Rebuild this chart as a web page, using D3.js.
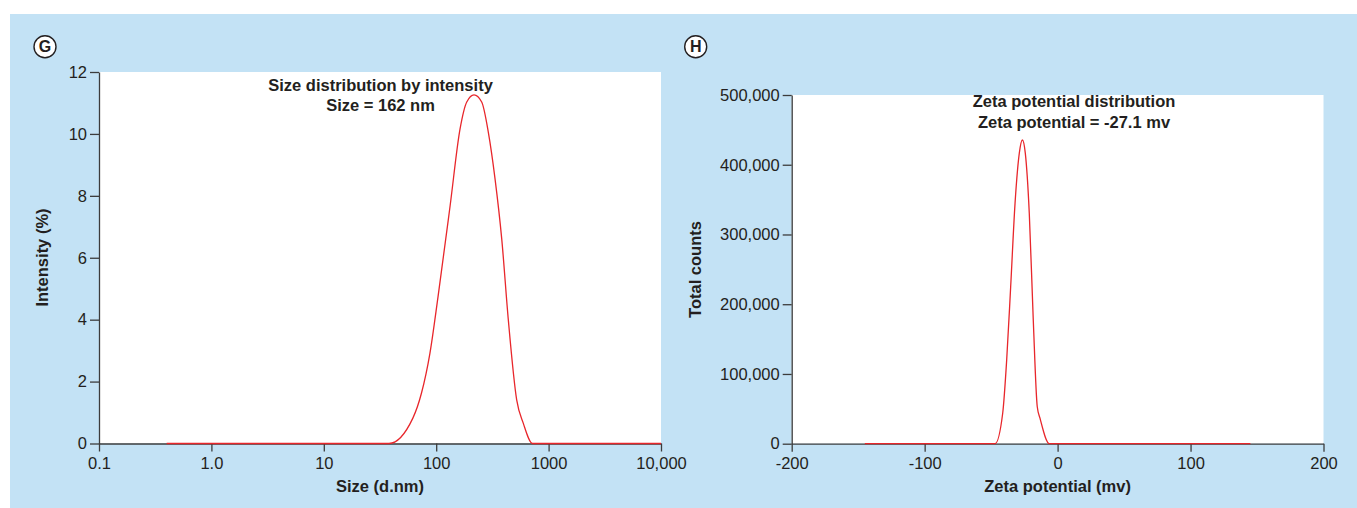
<!DOCTYPE html>
<html>
<head>
<meta charset="utf-8">
<script src="https://cdn.jsdelivr.net/npm/d3@7"></script>
<style>
	body { margin: 0; background: #fff; }
	text { font-family: "Liberation Sans", Arial, sans-serif; fill: #231f20; }
</style>
</head>
<body>
<script>
// Chart data
const sizeNm = [0.4, 38, 62, 74, 88, 104, 133, 163, 187, 217, 254, 291, 334, 383, 438, 520, 596, 720, 10000];
const intensity = [0, 0, 0.82, 1.63, 2.92, 4.76, 7.68, 10.16, 11.03, 11.26, 11.03, 10.05, 8.54, 6.6, 4.0, 1.41, 0.65, 0, 0];
const sizeTicks = [0.1, 1, 10, 100, 1000, 10000];
const sizeTickLabels = ['0.1', '1.0', '10', '100', '1000', '10,000'];
const intensityTicks = [0, 2, 4, 6, 8, 10, 12];

const zetaMv = [-145, -47, -41.3, -38.3, -35.3, -32, -28.8, -26.5, -24.3, -21.3, -18.3, -15.3, -13.2, -6.2, 145];
const totalCounts = [0, 0, 43600, 120000, 225000, 345000, 416600, 435500, 416600, 330500, 177500, 53000, 36400, 0, 0];
const zetaTicks = [-200, -100, 0, 100, 200];
const countTicks = [0, 100000, 200000, 300000, 400000, 500000];

// Constants
const w = 1357;
const h = 508;
const fontSize = 16.5;
const red = '#e8262b';
const axisColor = '#3c3c3c';

const svg = d3.select('body')
	.append('svg')
	.attr('width', w)
	.attr('height', h);

// Blue panel background
svg.append('rect')
	.attr('x', 10)
	.attr('y', 14)
	.attr('width', w - 10)
	.attr('height', h - 14)
	.attr('fill', '#c3e2f5');

// Draw one panel
const panel = (opts) => {
	const { xScale, yScale, xs, ys, xTicks, xFormat, yTicks, yFormat } = opts;
	const [x0, x1] = xScale.range();
	const [y0, y1] = yScale.range();

	// white plot area
	svg.append('rect')
		.attr('x', x0)
		.attr('y', y1)
		.attr('width', x1 - x0)
		.attr('height', y0 - y1)
		.attr('fill', '#fff');

	const xAxis = d3.axisBottom(xScale)
		.tickValues(xTicks)
		.tickFormat(xFormat)
		.tickSize(8)
		.tickSizeOuter(0)
		.tickPadding(5.5);

	const yAxis = d3.axisLeft(yScale)
		.tickValues(yTicks)
		.tickFormat(yFormat)
		.tickSize(9)
		.tickSizeOuter(0)
		.tickPadding(3);

	const gx = svg.append('g')
		.attr('transform', 'translate(0,' + y0 + ')')
		.call(xAxis);

	const gy = svg.append('g')
		.attr('transform', 'translate(' + x0 + ',0)')
		.call(yAxis);

	[gx, gy].forEach((g) => {
		g.selectAll('path, line').attr('stroke', axisColor).attr('stroke-width', 1.3);
		g.selectAll('text')
			.attr('font-size', fontSize)
			.attr('font-family', '"Liberation Sans", Arial, sans-serif')
			.attr('fill', '#231f20');
	});

	// red distribution line
	const line = d3.line()
		.x((d, i) => xScale(xs[i]))
		.y((d) => yScale(d))
		.curve(d3.curveMonotoneX);

	svg.append('path')
		.datum(ys)
		.attr('d', line)
		.attr('fill', 'none')
		.attr('stroke', red)
		.attr('stroke-width', 1.3);

	return { x0, x1, y0, y1 };
};

// Panel G: size distribution
const sizeScale = d3.scaleLog().domain([0.1, 10000]).range([99, 661]);
const intensityScale = d3.scaleLinear().domain([0, 12]).range([443.5, 72]);
panel({
	xScale: sizeScale, yScale: intensityScale, xs: sizeNm, ys: intensity,
	xTicks: sizeTicks, xFormat: (d, i) => sizeTickLabels[i],
	yTicks: intensityTicks, yFormat: d3.format('d')
});

// Panel H: zeta potential
const zetaScale = d3.scaleLinear().domain([-200, 200]).range([791.7, 1323.5]);
const countScale = d3.scaleLinear().domain([0, 500000]).range([443.7, 95]);
panel({
	xScale: zetaScale, yScale: countScale, xs: zetaMv, ys: totalCounts,
	xTicks: zetaTicks, xFormat: (d) => String(d),
	yTicks: countTicks, yFormat: d3.format(',')
});

// Text labels
const label = (x, y, str, rotate) => {
	svg.append('text')
		.attr('transform', 'translate(' + x + ',' + y + ')' + (rotate ? ' rotate(-90)' : ''))
		.attr('text-anchor', 'middle')
		.attr('font-size', fontSize)
		.attr('font-weight', 'bold')
		.text(str);
};

label(380.5, 90.7, 'Size distribution by intensity');
label(380.5, 110.7, 'Size = 162 nm');
label(380, 491.5, 'Size (d.nm)');
label(48, 257.5, 'Intensity (%)', true);

label(1074, 107, 'Zeta potential distribution');
label(1074, 127.5, 'Zeta potential = -27.1 mv');
label(1057.6, 491.5, 'Zeta potential (mv)');
label(700.5, 269.5, 'Total counts', true);

// Circled panel letters
const badge = (cx, cy, letter) => {
	svg.append('circle')
		.attr('cx', cx)
		.attr('cy', cy)
		.attr('r', 11)
		.attr('fill', '#fff')
		.attr('stroke', '#231f20')
		.attr('stroke-width', 1.4);
	svg.append('text')
		.attr('x', cx)
		.attr('y', cy + 5.6)
		.attr('text-anchor', 'middle')
		.attr('font-size', 16)
		.attr('font-weight', 'bold')
		.text(letter);
};

badge(45, 46.7, 'G');
badge(695.7, 46.7, 'H');
</script>
</body>
</html>
